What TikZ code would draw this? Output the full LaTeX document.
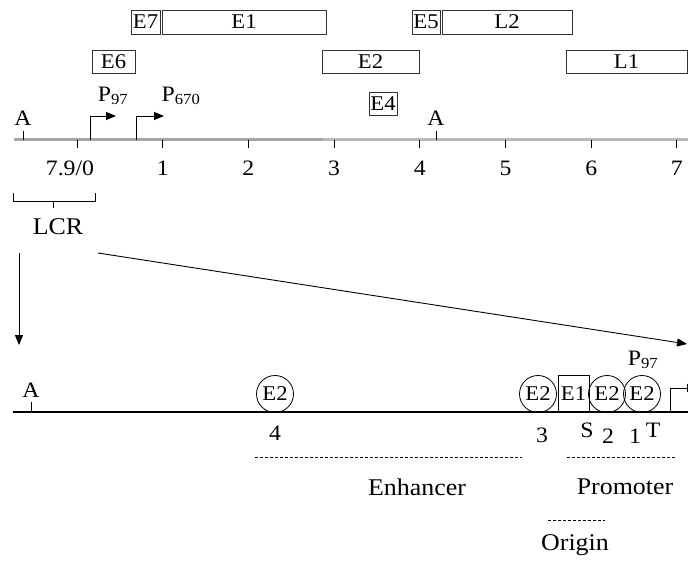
\documentclass[tikz,border=0pt]{standalone}
\usepackage{fontspec}
\setmainfont{Liberation Serif}[FakeStretch=1.08]
\usetikzlibrary{arrows.meta}
\begin{document}
\begin{tikzpicture}[x=1pt,y=-1pt,
  lbl/.style={font=\fontsize{22}{24}\selectfont, inner sep=0pt},
  big/.style={font=\fontsize{24}{26}\selectfont, inner sep=0pt},
  gene/.style={draw=black!80, line width=0.8pt, font=\fontsize{21}{23}\selectfont, inner sep=0pt},
  site/.style={circle, draw, line width=0.8pt, minimum size=37pt, inner sep=0pt, font=\fontsize{21}{23}\selectfont},
  tickln/.style={line width=0.9pt},
  arr/.style={-{Triangle[length=10pt,width=8pt]}, line width=0.9pt},
  dsh/.style={dash pattern=on 3pt off 2pt, line width=0.8pt}
]
\useasboundingbox (0,0) rectangle (688,561);
\clip (0,0) rectangle (688,561);

% gene boxes
\node[gene, minimum width=29pt, minimum height=24pt] (e7) at (145.5,22) {E7};
\node[gene, minimum width=164pt, minimum height=24pt] (e1) at (244,22) {E1};
\node[gene, minimum width=28pt, minimum height=24pt] (e5) at (426,22) {E5};
\node[gene, minimum width=130pt, minimum height=24pt] (l2) at (507,22) {L2};
\node[gene, minimum width=43pt, minimum height=23pt] (e6) at (113.5,61.5) {E6};
\node[gene, minimum width=97pt, minimum height=23pt] (e2) at (370.5,61.5) {E2};
\node[gene, minimum width=121pt, minimum height=23pt] (l1) at (626.5,61.5) {L1};
\node[gene, minimum width=28pt, minimum height=23pt] (e4) at (383,103.5) {E4};

% top axis
\coordinate (axL) at (14,140);
\coordinate (axM) at (323,140);
\coordinate (axR) at (688,140);
\draw[gray!70, line width=3pt] (axL) -- (axM);
\draw[gray!55, line width=3pt] (axM) -- (axR);
\foreach \k in {0,...,7} \draw[tickln] (77+85.7*\k,140) -- ++(0,8);
\node[lbl] (n0) at (70,168) {7.9/0};
\foreach \k in {1,...,7} \node[lbl] (n\k) at (77+85.7*\k,168) {\k};

% A sites
\draw[tickln] (23,131) -- (23,140);
\node[lbl] (a1) at (23,118) {A};
\draw[tickln] (436,131) -- (436,140);
\node[lbl] (a2) at (436,118) {A};

% promoters
\coordinate (p97b) at (90,140);
\coordinate (p97t) at (116,116);
\draw[arr] (p97b) |- (p97t);
\node[lbl] (p97) at (113,96) {P\textsubscript{97}};
\coordinate (p670b) at (136,140);
\coordinate (p670t) at (164,116);
\draw[arr] (p670b) |- (p670t);
\node[lbl] (p670) at (181,96) {P\textsubscript{670}};

% LCR bracket
\draw[tickln] (13,193) -- (13,201) -- (95,201) -- (95,193);
\draw[tickln] (53,201) -- (53,208);
\node[big] (lcr) at (58,227) {LCR};

% expansion arrows
\coordinate (d0) at (19,253);
\coordinate (d1) at (19,345);
\draw[arr] (d0) -- (d1);
\coordinate (l0) at (98,253);
\coordinate (l1e) at (687,344);
\draw[arr] (l0) -- (l1e);

% bottom line
\coordinate (bL) at (13,412);
\coordinate (bR) at (688,412);
\draw[line width=1.1pt] (bL) -- (bR);
\draw[tickln] (31,402) -- (31,412);
\node[lbl] (a3) at (31,390) {A};

% binding sites
\node[site] (s4) at (275,394) {E2};
\node[site] (s3) at (538,394) {E2};
\node[gene, draw=black, minimum width=31pt, minimum height=37pt] (se1) at (573.5,393.5) {E1};
\node[site] (s2) at (607,394) {E2};
\node[site] (s1) at (642,394) {E2};

% P97 transcription start
\coordinate (tb) at (670,412);
\coordinate (tt) at (697,388);
\draw[arr] (tb) |- (tt);
\node[lbl] (p97b2) at (643,360) {P\textsubscript{97}};

% site labels
\node[lbl] (l4) at (275,433) {4};
\node[lbl] (l3) at (542,435) {3};
\node[lbl] (ls) at (587,430) {S};
\node[lbl] (l2n) at (608,436) {2};
\node[lbl] (l1n) at (635,436) {1};
\node[lbl] (lt) at (653,430) {T};

% regions
\draw[dsh] (255,457) -- (522,457);
\node[big] (enh) at (417,487) {Enhancer};
\draw[dsh] (567,457) -- (677,457);
\node[big] (pro) at (625,487) {Promoter};
\draw[dsh] (548,520) -- (605,520);
\node[big] (ori) at (575,545) {Origin};
\end{tikzpicture}
\end{document}
